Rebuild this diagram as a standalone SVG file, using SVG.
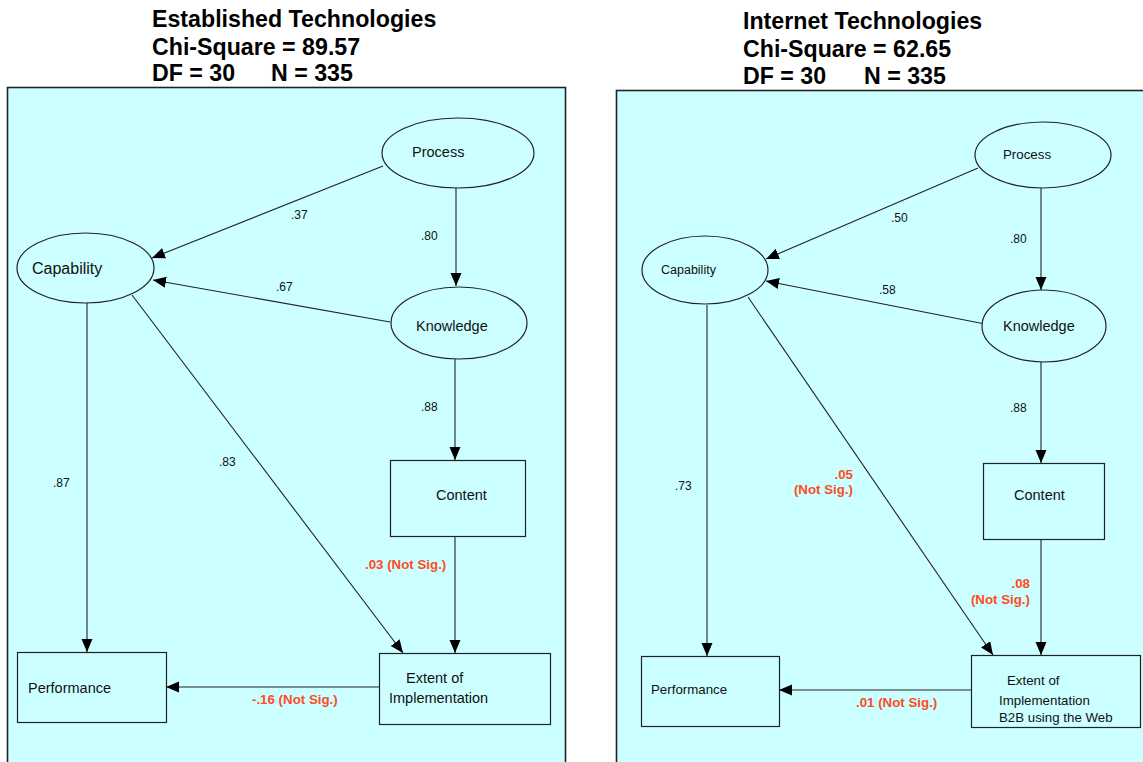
<svg xmlns="http://www.w3.org/2000/svg" width="1143" height="762" viewBox="0 0 1143 762">
<defs>
<marker id="ah" markerUnits="userSpaceOnUse" markerWidth="14" markerHeight="12" refX="13" refY="5.5" orient="auto">
<path d="M0,0 L13,5.5 L0,11 z" fill="#000"/>
</marker>
<style>
.title{font-family:"Liberation Sans",Arial,sans-serif;font-weight:bold;font-size:23.2px;fill:#000}
.panel{fill:#CCFFFF;stroke:#222;stroke-width:1.6}
.node{fill:#CCFFFF;stroke:#222;stroke-width:1.2}
.lbl{font-family:"Liberation Sans",Arial,sans-serif;font-size:14.5px;fill:#111}
.lbs{font-family:"Liberation Sans",Arial,sans-serif;font-size:13.3px;fill:#111}
.num{font-family:"Liberation Sans",Arial,sans-serif;font-size:12px;fill:#111}
.ns{font-family:"Liberation Sans",Arial,sans-serif;font-size:13.3px;font-weight:bold;fill:#FF4B1F}
.c{stroke:#222;stroke-width:1.1;fill:none;marker-end:url(#ah)}
</style>
</defs>
<rect width="1143" height="762" fill="#fff"/>
<g id="titles">
<text class="title" x="152" y="27">Established Technologies</text>
<text class="title" x="152" y="55">Chi-Square = 89.57</text>
<text class="title" x="152" y="81">DF = 30</text>
<text class="title" x="271" y="81">N = 335</text>
<text class="title" x="743" y="29">Internet Technologies</text>
<text class="title" x="743" y="57">Chi-Square = 62.65</text>
<text class="title" x="743" y="84">DF = 30</text>
<text class="title" x="864" y="84">N = 335</text>
</g>
<g id="panels">
<rect class="panel" x="7.5" y="87.5" width="558" height="700"/>
<rect class="panel" x="616.5" y="90.5" width="560" height="700"/>
</g>
<g id="connectors">
<path class="c" d="M383,166 L152,258"/>
<path class="c" d="M456,188 L456,286"/>
<path class="c" d="M390,322 L153,280"/>
<path class="c" d="M87,303 L87,652"/>
<path class="c" d="M132,295 L403,653"/>
<path class="c" d="M455,359 L455,460"/>
<path class="c" d="M455,536 L455,653"/>
<path class="c" d="M379,687 L166,687"/>
<path class="c" d="M978,168 L766,259"/>
<path class="c" d="M1041,188 L1041,290"/>
<path class="c" d="M985,324 L766,281"/>
<path class="c" d="M707,305 L707,656"/>
<path class="c" d="M748,297 L993,655"/>
<path class="c" d="M1041,362 L1041,463"/>
<path class="c" d="M1041,539 L1041,655"/>
<path class="c" d="M971,690 L779,690"/>
</g>
<g id="edge-labels">
<text class="num" x="291" y="219">.37</text>
<text class="num" x="421" y="240">.80</text>
<text class="num" x="276" y="291">.67</text>
<text class="num" x="53" y="487">.87</text>
<text class="num" x="219" y="466">.83</text>
<text class="num" x="421" y="411">.88</text>
<text class="ns" x="365" y="569">.03 (Not Sig.)</text>
<text class="ns" x="252" y="704">-.16 (Not Sig.)</text>
<text class="num" x="891" y="222">.50</text>
<text class="num" x="1010" y="243">.80</text>
<text class="num" x="879" y="294">.58</text>
<text class="num" x="675" y="490">.73</text>
<text class="ns" x="853" y="479" text-anchor="end">.05</text>
<text class="ns" x="853" y="494" text-anchor="end">(Not Sig.)</text>
<text class="num" x="1010" y="412">.88</text>
<text class="ns" x="1030" y="588" text-anchor="end">.08</text>
<text class="ns" x="1030" y="604" text-anchor="end">(Not Sig.)</text>
<text class="ns" x="856" y="707">.01 (Not Sig.)</text>
</g>
<g id="L-process"><ellipse class="node" cx="458" cy="153" rx="76" ry="35"/><text class="lbl" x="412" y="157">Process</text></g>
<g id="L-capability"><ellipse class="node" cx="85.5" cy="268" rx="68.5" ry="35"/><text class="lbl" x="32" y="274" style="font-size:16px">Capability</text></g>
<g id="L-knowledge"><ellipse class="node" cx="459" cy="323" rx="68" ry="36"/><text class="lbl" x="416" y="331">Knowledge</text></g>
<g id="L-content"><rect class="node" x="390.5" y="460.5" width="135" height="76"/><text class="lbl" x="436" y="500">Content</text></g>
<g id="L-extent"><rect class="node" x="379.5" y="653.5" width="171" height="71"/><text class="lbl" x="406" y="683">Extent of</text><text class="lbl" x="389" y="703">Implementation</text></g>
<g id="L-performance"><rect class="node" x="17.5" y="652.5" width="149" height="70"/><text class="lbl" x="28" y="693">Performance</text></g>
<g id="R-process"><ellipse class="node" cx="1043" cy="155" rx="68" ry="33"/><text class="lbs" x="1003" y="159">Process</text></g>
<g id="R-capability"><ellipse class="node" cx="705" cy="270" rx="63" ry="34"/><text class="lbs" x="661" y="274" style="font-size:12.5px">Capability</text></g>
<g id="R-knowledge"><ellipse class="node" cx="1044" cy="326" rx="62" ry="36"/><text class="lbl" x="1003" y="331">Knowledge</text></g>
<g id="R-content"><rect class="node" x="983.5" y="463.5" width="121" height="76"/><text class="lbl" x="1014" y="500">Content</text></g>
<g id="R-extent"><rect class="node" x="971.5" y="655.5" width="169" height="72"/><text class="lbs" x="1007" y="685">Extent of</text><text class="lbs" x="999" y="705">Implementation</text><text class="lbs" x="999" y="722">B2B using the Web</text></g>
<g id="R-performance"><rect class="node" x="641.5" y="656.5" width="138" height="70"/><text class="lbs" x="651" y="694">Performance</text></g>
</svg>
